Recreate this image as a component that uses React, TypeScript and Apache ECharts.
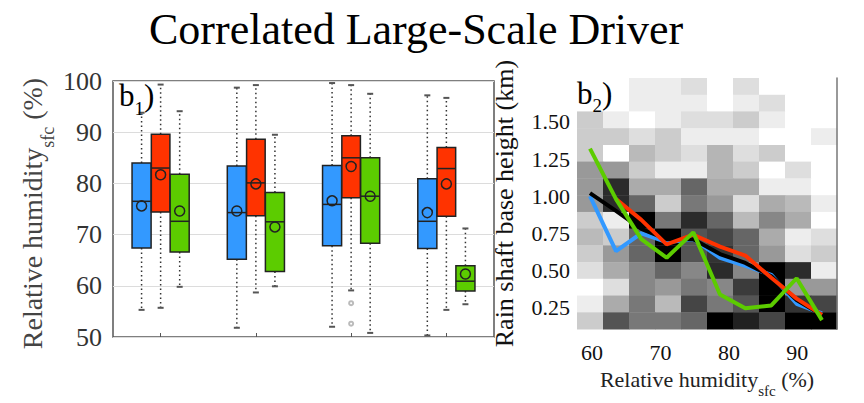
import React, { useEffect, useRef } from "react";
import * as echarts from "echarts";

const SERIF = "'Liberation Serif', 'Times New Roman', serif";

const TITLE = "Correlated Large-Scale Driver";

// ---------- Left panel (b1): box plots ----------
const GROUPS = ["1", "2", "3", "4"];
const BOX_Y_MIN = 50;
const BOX_Y_MAX = 100;
const BOX_Y_STEP = 10;
// [min, q1, median, q3, max, mean]
const BLUE_BOXES = [
  [55.3, 67.4, 76.5, 84.0, 93.8, 75.6],
  [51.8, 65.2, 74.3, 83.4, 98.7, 74.6],
  [52.0, 67.8, 75.9, 83.5, 99.6, 76.6],
  [50.3, 67.3, 72.6, 80.9, 97.2, 74.3],
];
const RED_BOXES = [
  [55.7, 74.4, 83.0, 89.6, 99.3, 81.7],
  [58.7, 73.7, 80.1, 88.6, 99.2, 79.9],
  [59.1, 77.2, 85.0, 89.3, 99.2, 83.3],
  [55.3, 73.6, 82.9, 87.0, 96.7, 79.9],
];
const GREEN_BOXES = [
  [59.8, 66.6, 72.6, 81.8, 94.1, 74.6],
  [59.9, 62.8, 72.5, 78.2, 89.5, 71.5],
  [50.8, 68.3, 77.5, 85.0, 97.5, 77.5],
  [56.4, 59.0, 60.9, 63.9, 71.2, 62.3],
];
const RED_OUTLIERS = [
  [2, 56.6],
  [2, 52.6],
];

// ---------- Right panel (b2): 2-D histogram + lines ----------
const HEAT_X_CENTERS = [59.7, 63.5, 67.3, 71.1, 74.9, 78.7, 82.5, 86.3, 90.1, 93.9];
const HEAT_Y_CENTERS = [
  0.161, 0.274, 0.387, 0.499, 0.612, 0.725, 0.837, 0.95, 1.063, 1.176, 1.288, 1.401, 1.514,
  1.626, 1.739,
];
// darkness in %, rows listed from top (highest height) to bottom
const HEAT_DENSITY = [
  [0, 0, 7, 7, 13, 0, 13, 0, 0, 0],
  [0, 0, 7, 7, 7, 0, 7, 13, 0, 0],
  [20, 7, 0, 7, 13, 13, 20, 7, 0, 0],
  [20, 20, 13, 20, 7, 7, 7, 0, 0, 7],
  [20, 0, 27, 20, 13, 29, 13, 20, 0, 0],
  [40, 40, 20, 7, 7, 29, 20, 0, 13, 0],
  [40, 83, 33, 33, 60, 33, 33, 7, 7, 0],
  [40, 83, 60, 20, 53, 40, 13, 33, 27, 7],
  [20, 7, 100, 53, 83, 60, 27, 47, 33, 0],
  [27, 20, 60, 100, 67, 73, 60, 33, 7, 13],
  [20, 40, 60, 100, 67, 80, 60, 40, 13, 20],
  [13, 33, 47, 60, 47, 83, 47, 100, 83, 7],
  [0, 13, 47, 40, 53, 47, 77, 100, 40, 40],
  [7, 33, 53, 27, 73, 53, 67, 100, 80, 73],
  [20, 67, 53, 53, 60, 100, 87, 73, 100, 100],
];
const HEAT_X_TICKS = [60, 70, 80, 90];
const HEAT_Y_TICKS = [0.25, 0.5, 0.75, 1.0, 1.25, 1.5];

const LINE_X = [59.7, 63.5, 67.2, 70.9, 74.8, 78.7, 82.4, 86.2, 89.9, 93.6];
const BLACK_LINE = [1.02, 0.9, 0.78, 0.71, 0.71, 0.61, 0.55, 0.46, 0.3, 0.2];
const BLUE_LINE = [1.0, 0.63, 0.75, 0.69, 0.71, 0.585, 0.53, 0.47, 0.275, 0.21];
const RED_LINE = [null, 0.98, 0.84, 0.675, 0.74, 0.66, 0.6, 0.45, 0.31, 0.2];
const GREEN_LINE = [1.32, 0.98, 0.71, 0.585, 0.756, 0.337, 0.245, 0.264, 0.447, 0.165];

const BLUE = "#3399ff";
const RED = "#ff3300";
const GREEN = "#5ccc00";

function boxData(boxes: number[][]) {
  return boxes.map((b, i) => [i, ...b]);
}

function boxRenderer(offsetFrac: number, widthFrac: number, color: string) {
  return (params: any, api: any) => {
    const g = api.value(0);
    const mn = api.value(1);
    const q1 = api.value(2);
    const md = api.value(3);
    const q3 = api.value(4);
    const mx = api.value(5);
    const mean = api.value(6);
    const band = api.size([1, 0])[0];
    const cx = api.coord([g, md])[0] + offsetFrac * band;
    const w = widthFrac * band;
    const y = (v: number) => api.coord([g, v])[1];
    const dot = { stroke: "#333", lineWidth: 1.5, lineDash: [1.5, 3] };
    const cap = { stroke: "#555", lineWidth: 2 };
    return {
      type: "group",
      children: [
        { type: "line", shape: { x1: cx, y1: y(q3), x2: cx, y2: y(mx) }, style: dot },
        { type: "line", shape: { x1: cx, y1: y(q1), x2: cx, y2: y(mn) }, style: dot },
        { type: "line", shape: { x1: cx - 3, y1: y(mx), x2: cx + 3, y2: y(mx) }, style: cap },
        { type: "line", shape: { x1: cx - 3, y1: y(mn), x2: cx + 3, y2: y(mn) }, style: cap },
        {
          type: "rect",
          shape: { x: cx - w / 2, y: y(q3), width: w, height: y(q1) - y(q3) },
          style: { fill: color, stroke: "#222", lineWidth: 1.5 },
        },
        {
          type: "line",
          shape: { x1: cx - w / 2, y1: y(md), x2: cx + w / 2, y2: y(md) },
          style: { stroke: "#222", lineWidth: 1.5 },
        },
        {
          type: "circle",
          shape: { cx, cy: y(mean), r: 5 },
          style: { fill: "none", stroke: "#222", lineWidth: 1.5 },
        },
      ],
    };
  };
}

function pairs(xs: number[], ys: (number | null)[]) {
  const out: number[][] = [];
  xs.forEach((x, i) => {
    const v = ys[i];
    if (v !== null && v !== undefined) out.push([x, v]);
  });
  return out;
}

export default function App() {
  const ref = useRef<HTMLDivElement>(null);
  useEffect(() => {
    document.body.style.margin = "0";
    const chart = echarts.init(ref.current!, null, { renderer: "svg" });

    const hx = HEAT_X_CENTERS[1] - HEAT_X_CENTERS[0];
    const hy = HEAT_Y_CENTERS[1] - HEAT_Y_CENTERS[0];
    const nRows = HEAT_DENSITY.length;
    const heatData: number[][] = [];
    HEAT_DENSITY.forEach((row, r) => {
      row.forEach((v, c) => {
        heatData.push([HEAT_X_CENTERS[c], HEAT_Y_CENTERS[nRows - 1 - r], v]);
      });
    });
    const hxMin = HEAT_X_CENTERS[0] - hx / 2;
    const hxMax = HEAT_X_CENTERS[HEAT_X_CENTERS.length - 1] + hx / 2;
    const hyMin = HEAT_Y_CENTERS[0] - hy / 2;
    const hyMax = HEAT_Y_CENTERS[HEAT_Y_CENTERS.length - 1] + hy / 2;

    const subLabel = (main: number, sub: number, pad: number, fill: string) => ({
      m: { fontFamily: SERIF, fontSize: main, fill, verticalAlign: "bottom", padding: [0, 0, pad, 0] },
      s: { fontFamily: SERIF, fontSize: sub, fill, verticalAlign: "bottom" },
    });

    const option: any = {
      animation: false,
      title: {
        text: TITLE,
        left: 144,
        top: 2,
        textStyle: { fontFamily: SERIF, fontSize: 44, fontWeight: "normal", color: "#000" },
      },
      grid: [
        {
          left: 113,
          top: 81,
          width: 381,
          height: 256,
          show: true,
          borderColor: "#555",
          borderWidth: 1.5,
          backgroundColor: "transparent",
        },
        { left: 577, top: 78, width: 260, height: 261 },
      ],
      xAxis: [
        {
          type: "category",
          gridIndex: 0,
          data: GROUPS,
          boundaryGap: true,
          axisLine: { show: false },
          axisLabel: { show: false },
          axisTick: { show: true, inside: true, length: 4, alignWithLabel: true, lineStyle: { color: "#555" } },
          splitLine: { show: false },
        },
        {
          type: "value",
          gridIndex: 1,
          min: hxMin,
          max: hxMax,
          axisLine: { show: false },
          axisTick: { show: false },
          splitLine: { show: false },
          axisLabel: {
            customValues: HEAT_X_TICKS,
            fontFamily: SERIF,
            fontSize: 22,
            color: "#111",
            margin: 12,
          },
          name: "{m|Relative humidity}{s|sfc}{m| (%)}",
          nameLocation: "middle",
          nameGap: 37,
          nameTextStyle: {
            fontFamily: SERIF,
            fontSize: 22,
            color: "#222",
            rich: {
              m: { fontFamily: SERIF, fontSize: 22, color: "#222", verticalAlign: "bottom", padding: [0, 0, 8, 0] },
              s: { fontFamily: SERIF, fontSize: 15, color: "#222", verticalAlign: "bottom" },
            },
          },
        },
      ],
      yAxis: [
        {
          type: "value",
          gridIndex: 0,
          min: BOX_Y_MIN,
          max: BOX_Y_MAX,
          interval: BOX_Y_STEP,
          axisLine: { show: false },
          axisTick: { show: false },
          axisLabel: { fontFamily: SERIF, fontSize: 26, color: "#333", margin: 11 },
          splitLine: { show: true, lineStyle: { color: "#dcdcdc", width: 1 } },
          name: "{m|Relative humidity}{s|sfc}{m| (%)}",
          nameLocation: "middle",
          nameGap: 56,
          nameTextStyle: {
            fontFamily: SERIF,
            fontSize: 28,
            color: "#444",
            padding: [0, 9, 0, 0],
            rich: {
              m: { fontFamily: SERIF, fontSize: 28, color: "#444", verticalAlign: "bottom", padding: [0, 0, 11, 0] },
              s: { fontFamily: SERIF, fontSize: 18, color: "#444", verticalAlign: "bottom" },
            },
          },
        },
        {
          type: "value",
          gridIndex: 1,
          min: hyMin,
          max: hyMax,
          axisLine: { show: false },
          axisTick: { show: false },
          splitLine: { show: false },
          axisLabel: {
            customValues: HEAT_Y_TICKS,
            formatter: (v: number) => v.toFixed(2),
            fontFamily: SERIF,
            fontSize: 22,
            color: "#111",
            margin: 7,
          },
          name: "Rain shaft base height (km)",
          nameLocation: "middle",
          nameGap: 60,
          nameTextStyle: { fontFamily: SERIF, fontSize: 26, color: "#111" },
        },
        {
          type: "value",
          gridIndex: 1,
          position: "right",
          min: hyMin,
          max: hyMax,
          z: 5,
          axisLine: { show: true, lineStyle: { color: "#777", width: 1.5 } },
          axisTick: { show: false },
          axisLabel: { show: false },
          splitLine: { show: false },
        },
      ],
      visualMap: {
        type: "continuous",
        show: false,
        seriesIndex: 4,
        dimension: 2,
        min: 0,
        max: 100,
        inRange: { color: ["#ffffff", "#000000"] },
      },
      graphic: [
        {
          type: "text",
          x: 119,
          y: 80,
          z: 10,
          style: { text: "{m|b}{s|1}{m|)}", rich: subLabel(31, 19, 7, "#000") },
        },
        {
          type: "text",
          x: 577,
          y: 78,
          z: 10,
          style: { text: "{m|b}{s|2}{m|)}", rich: subLabel(31, 19, 6, "#000") },
        },
      ],
      series: [
        {
          type: "custom",
          name: "blue",
          xAxisIndex: 0,
          yAxisIndex: 0,
          data: boxData(BLUE_BOXES),
          encode: { x: 0, y: [1, 2, 3, 4, 5, 6] },
          renderItem: boxRenderer(-0.2, 0.2, BLUE),
        },
        {
          type: "custom",
          name: "red",
          xAxisIndex: 0,
          yAxisIndex: 0,
          data: boxData(RED_BOXES),
          encode: { x: 0, y: [1, 2, 3, 4, 5, 6] },
          renderItem: boxRenderer(0, 0.195, RED),
        },
        {
          type: "custom",
          name: "green",
          xAxisIndex: 0,
          yAxisIndex: 0,
          data: boxData(GREEN_BOXES),
          encode: { x: 0, y: [1, 2, 3, 4, 5, 6] },
          renderItem: boxRenderer(0.2, 0.2, GREEN),
        },
        {
          type: "scatter",
          xAxisIndex: 0,
          yAxisIndex: 0,
          data: RED_OUTLIERS,
          symbol: "emptyCircle",
          symbolSize: 4,
          itemStyle: { color: "#aaa", borderColor: "#aaa" },
        },
        {
          type: "custom",
          name: "histogram",
          xAxisIndex: 1,
          yAxisIndex: 1,
          data: heatData,
          encode: { x: 0, y: 1 },
          z: 1,
          renderItem: (params: any, api: any) => {
            const x = api.value(0);
            const y = api.value(1);
            const p0 = api.coord([x - hx / 2, y + hy / 2]);
            const p1 = api.coord([x + hx / 2, y - hy / 2]);
            return {
              type: "rect",
              shape: { x: p0[0], y: p0[1], width: p1[0] - p0[0] + 0.4, height: p1[1] - p0[1] + 0.4 },
              style: { fill: api.visual("color") },
            };
          },
        },
        {
          type: "line",
          xAxisIndex: 1,
          yAxisIndex: 1,
          data: pairs(LINE_X, BLUE_LINE),
          showSymbol: false,
          z: 3,
          lineStyle: { color: BLUE, width: 4 },
        },
        {
          type: "line",
          xAxisIndex: 1,
          yAxisIndex: 1,
          data: pairs(LINE_X, BLACK_LINE),
          showSymbol: false,
          z: 3,
          lineStyle: { color: "#000", width: 4 },
        },
        {
          type: "line",
          xAxisIndex: 1,
          yAxisIndex: 1,
          data: pairs(LINE_X, RED_LINE),
          showSymbol: false,
          z: 3,
          lineStyle: { color: RED, width: 4 },
        },
        {
          type: "line",
          xAxisIndex: 1,
          yAxisIndex: 1,
          data: pairs(LINE_X, GREEN_LINE),
          showSymbol: false,
          z: 3,
          lineStyle: { color: GREEN, width: 4 },
        },
      ],
    };

    chart.setOption(option);
    return () => chart.dispose();
  }, []);
  return <div ref={ref} style={{ width: 864, height: 403 }} />;
}
